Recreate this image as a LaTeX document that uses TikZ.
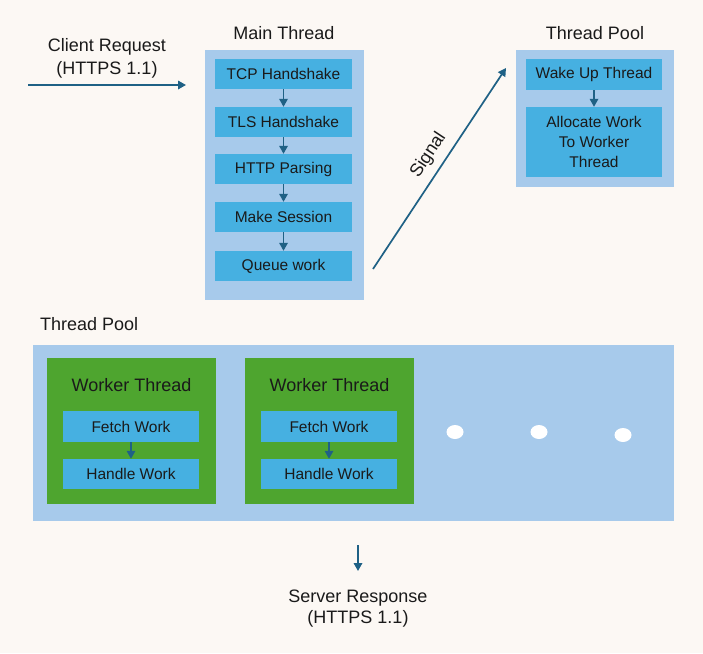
\documentclass[tikz,border=0pt]{standalone}
\usepackage{fontspec}
\setmainfont{Liberation Sans}
\usetikzlibrary{arrows.meta}
\definecolor{bg}{HTML}{FCF8F4}
\definecolor{panel}{HTML}{A7CAEB}
\definecolor{boxblue}{HTML}{46B0E1}
\definecolor{wgreen}{HTML}{4EA52F}
\definecolor{arr}{HTML}{1F6185}
\definecolor{txt}{HTML}{1A1A1A}
\begin{document}
\begin{tikzpicture}[x=1pt,y=-1pt,
  panelbox/.style={fill=panel, draw=none, inner sep=0pt},
  stepbox/.style={fill=boxblue, draw=none, inner sep=0pt, minimum width=137pt, minimum height=30pt, text=txt, font=\fontsize{15.5}{20}\selectfont, align=center},
  workerbox/.style={fill=wgreen, draw=none, inner sep=0pt, minimum width=169pt, minimum height=146pt},
  lbl/.style={text=txt, font=\fontsize{18}{22}\selectfont, align=center, inner sep=0pt},
  flow/.style={draw=arr, line width=1.7pt, -{Triangle[length=8pt,width=8.5pt]}}
]
\fill[bg] (0,0) rectangle (703,653);
\useasboundingbox (0,0) rectangle (703,653);

% Client request
\node[lbl, font=\fontsize{18}{23}\selectfont] (creq) at (107,58) {Client Request\\(HTTPS 1.1)};
\coordinate (cin) at (28,85);
\coordinate (cout) at (186,85);
\draw[flow] (cin) -- (cout);

% Main thread
\node[lbl] (mtl) at (284,33) {Main Thread};
\node[panelbox, minimum width=159pt, minimum height=250pt] (mt) at (284.5,175) {};
\node[stepbox] (tcp) at (283.5,74) {TCP Handshake};
\node[stepbox] (tls) at (283.5,122) {TLS Handshake};
\node[stepbox] (http) at (283.5,169) {HTTP Parsing};
\node[stepbox] (sess) at (283.5,217) {Make Session};
\node[stepbox] (queue) at (283.5,266) {Queue work};
\draw[flow] (tcp) -- (tls);
\draw[flow] (tls) -- (http);
\draw[flow] (http) -- (sess);
\draw[flow] (sess) -- (queue);

% Thread pool (top)
\node[lbl] (tpl) at (595,33) {Thread Pool};
\node[panelbox, minimum width=158pt, minimum height=137pt] (tp) at (595,118.5) {};
\node[stepbox, minimum width=136pt, minimum height=31pt] (wake) at (594,74.5) {Wake Up Thread};
\node[stepbox, minimum width=136pt, minimum height=70pt] (alloc) at (594,142) {Allocate Work\\To Worker\\Thread};
\draw[flow] (wake) -- (alloc);

% Signal
\coordinate (s1) at (373,269);
\coordinate (s2) at (506,68);
\draw[flow] (s1) -- (s2);
\node[lbl, rotate=56.5] (sig) at (428.5,155) {Signal};

% Thread pool (bottom)
\node[lbl, anchor=west] (tpl2) at (40,324) {Thread Pool};
\node[panelbox, minimum width=641pt, minimum height=176pt] (pool) at (353.5,433) {};

\node[workerbox] (w1) at (131.5,431) {};
\node[lbl] (w1l) at (131.5,385) {Worker Thread};
\node[stepbox, minimum width=136pt, minimum height=31pt] (f1) at (131,426.5) {Fetch Work};
\node[stepbox, minimum width=136pt, minimum height=30pt] (h1) at (131,474) {Handle Work};
\draw[flow] (f1) -- (h1);

\node[workerbox] (w2) at (329.5,431) {};
\node[lbl] (w2l) at (329.5,385) {Worker Thread};
\node[stepbox, minimum width=136pt, minimum height=31pt] (f2) at (329,426.5) {Fetch Work};
\node[stepbox, minimum width=136pt, minimum height=30pt] (h2) at (329,474) {Handle Work};
\draw[flow] (f2) -- (h2);

\fill[white] (455,432) ellipse [x radius=8.5pt, y radius=7pt];
\fill[white] (539,432) ellipse [x radius=8.5pt, y radius=7pt];
\fill[white] (623,435) ellipse [x radius=8.5pt, y radius=7pt];

% Server response
\coordinate (rin) at (358,545);
\coordinate (rout) at (358,571);
\draw[flow] (rin) -- (rout);
\node[lbl, font=\fontsize{18}{21}\selectfont] (sresp) at (358,608.5) {Server Response\\(HTTPS 1.1)};
\end{tikzpicture}
\end{document}
